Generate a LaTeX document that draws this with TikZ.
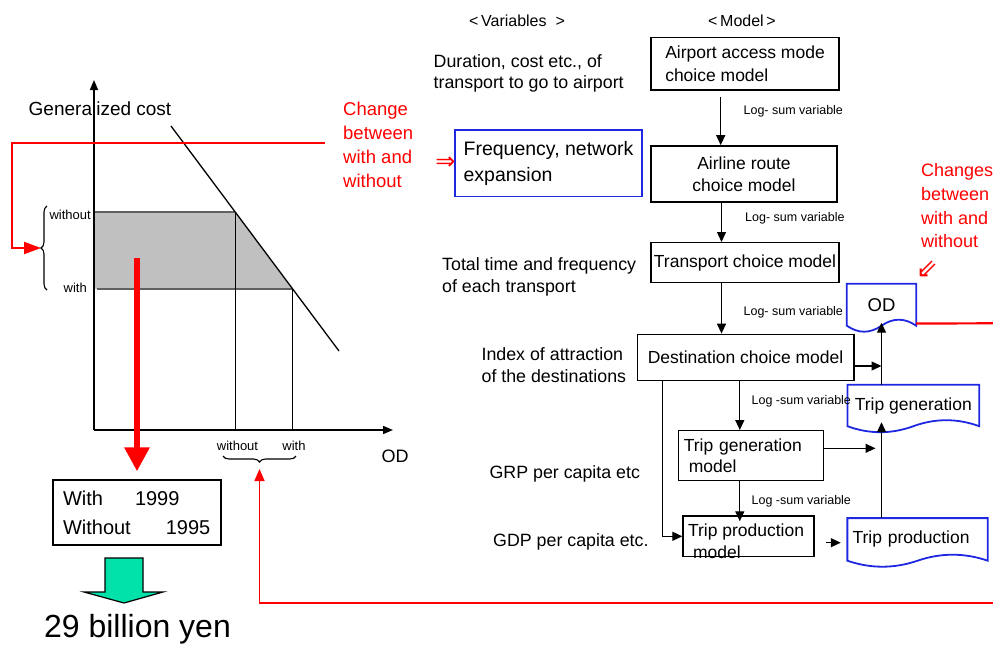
\documentclass[tikz,border=0pt]{standalone}
\usepackage{fontspec}
\setmainfont{Liberation Sans}
\newfontfamily\dvsym{DejaVu Sans}
\usetikzlibrary{arrows.meta,decorations.pathreplacing,calc}
\definecolor{redc}{RGB}{255,0,0}
\definecolor{bluec}{RGB}{30,40,225}
\definecolor{shadec}{RGB}{192,192,192}
\definecolor{edgec}{RGB}{96,96,96}
\definecolor{greenc}{RGB}{0,226,170}
\newcommand{\fsz}[2]{\fontsize{#1}{#2}\selectfont}
% document outline with a wavy bottom, drawn round a named node
\newcommand{\docwave}[1]{%
  \draw[docline] (#1.south west) -- (#1.north west) -- (#1.north east) -- (#1.south east)
    .. controls ($(#1.south east)!0.333!(#1.south)+(0,-8)$) and ($(#1.south east)!0.667!(#1.south)+(0,-8)$) .. (#1.south)
    .. controls ($(#1.south)!0.333!(#1.south west)+(0,8)$) and ($(#1.south)!0.667!(#1.south west)+(0,8)$) .. (#1.south west) -- cycle;}

\tikzset{
  modelbox/.style={draw,line width=1.4pt,inner sep=0pt,font=\fsz{17.5}{22}},
  docbox/.style={inner sep=0pt,font=\fsz{17.5}{22}},
  docline/.style={draw=bluec,line width=1.8pt},
  arr/.style={-{Triangle[length=10pt,width=9pt]},line width=1.3pt},
  lsum/.style={anchor=west,inner sep=0pt,font=\fsz{12.5}{14}},
  vartext/.style={anchor=west,align=left,inner sep=0pt,font=\fsz{17.8}{21.7}},
  redtext/.style={anchor=west,align=left,inner sep=0pt,text=redc},
  axis/.style={line width=1.5pt,-{Triangle[length=10pt,width=8pt]}},
  smalltext/.style={inner sep=0pt,font=\fsz{13}{15}},
}

\begin{document}
\begin{tikzpicture}[x=1pt,y=-1pt]
\useasboundingbox (0,0) rectangle (993,646);

%================= left: cost against OD =================
\coordinate (O) at (94,430);
\coordinate (ytip) at (94,80);
\coordinate (xtip) at (393,430);
\coordinate (d1) at (171,126);
\coordinate (d2) at (339,351);
\coordinate (p1) at ($(d1)!0.3822!(d2)$);
\coordinate (p2) at ($(d1)!0.7244!(d2)$);

\fill[shadec] (O |- p1) -- (p1) -- (p2) -- (O |- p2) -- cycle;
\draw[edgec,line width=1.2pt] (O |- p1) -- (p1);
\draw[edgec,line width=1.2pt] ($(O |- p2)+(3,0)$) -- (p2);
\draw[line width=1.2pt] (p1) -- (p1 |- O);
\draw[line width=1.2pt] (p2) -- (p2 |- O);
\draw[line width=1.3pt] (d1) -- (d2);

\node[font=\fsz{19}{22}] (gcost) at (100,109) {Generalized cost};
\draw[axis] (O) -- (ytip);
\draw[axis] (O) -- (xtip);
\node[font=\fsz{18}{20}] (odax) at (395,456) {OD};

% --- levels on the cost axis
\node[smalltext,anchor=east] (ywo) at (91,215) {without};
\node[smalltext,anchor=east] (yw) at (87,288) {with};
\draw[decorate,decoration={brace,amplitude=6pt},line width=1.1pt] (47,290) -- (47,206);
\coordinate (ybr) at (41,248);

% --- levels on the OD axis
\node[smalltext] (xwo) at (237.5,446) {without};
\node[smalltext] (xw) at (294,446) {with};
\draw[decorate,decoration={brace,amplitude=6pt},line width=1.1pt] (296,456) -- (223,456);
\coordinate (xbr) at (259.5,463);

% --- red change note and its arrow into the brace
\node[redtext,font=\fsz{18.5}{24.1}] (chgL) at (343,145) {Change\\between\\with and\\without};
\draw[redc,line width=2pt,-{Triangle[length=17pt,width=12pt]}]
  ([xshift=-18pt,yshift=2pt]chgL.west) -| ([xshift=-29pt]ybr) -- (ybr);

% --- result
\node[draw,line width=1.3pt,text width=148pt,inner xsep=10pt,inner ysep=0pt,minimum height=65pt,
  align=left,font=\fsz{20}{29}] (wbox) at (137,512.5) {With\hspace{32pt}1999\\Without\hspace{35pt}1995};
\coordinate (cs) at (137,258);
\draw[redc,line width=6pt,-{Triangle[length=24pt,width=24pt]},shorten >=8pt] (cs) -- (wbox.north);
\draw[fill=greenc,line width=1.2pt] (105,558) -- (143,558) -- (143,592) -- (163,592) -- (124,603)
  -- (84,592) -- (105,592) -- cycle;
\node[font=\fsz{32}{36}] (yen) at (137.5,629) {29 billion yen};

%================= right: the chain of models =================
\node[font=\fsz{16}{18}] (hvar) at (517,21) {<\,Variables\ \ >};
\node[font=\fsz{16}{18}] (hmod) at (742,21) {<\,Model\,>};

% --- variables
\node[vartext] (v1) at (433.5,73.5) {Duration, cost etc., of\\transport to go to airport};
\node[vartext] (v2) at (442,277) {Total time and frequency\\of each transport};
\node[vartext] (v3) at (481.4,365) {Index of attraction\\of the destinations};
\node[vartext] (v4) at (489.4,473.5) {GRP per capita etc};
\node[vartext] (v5) at (493,542) {GDP per capita etc.};

\node[draw=bluec,line width=1.6pt,minimum width=187pt,inner sep=0pt,minimum height=66.7pt,
  align=left,font=\fsz{19.5}{26.6}] (freq) at (548.5,163.3) {Frequency, network\\expansion};
\node[text=redc,inner sep=0pt,font=\dvsym\fsz{24}{26}] (imp) at (445.5,163) {⇒};

% --- models
\node[modelbox,minimum width=188pt,minimum height=52.7pt,align=left,font=\fsz{17.5}{22.7}] (mAccess) at (745,63.7)
  {Airport access mode\\choice model};
\node[modelbox,minimum width=186pt,minimum height=56.3pt,align=center,font=\fsz{17.5}{21.6}] (mRoute) at (744,174)
  {Airline route\\choice model};
\node[modelbox,minimum width=188pt,minimum height=39.6pt] (mTrans) at (745,262.5) {Transport choice model};
\node[modelbox,minimum width=216.4pt,minimum height=46.4pt] (mDest) at (745.6,357.5) {Destination choice model};
\node[modelbox,text width=135pt,inner xsep=5pt,minimum height=50pt,align=left,font=\fsz{17.5}{21.7}] (mGen)
  at (751.25,455.7) {Trip generation\\\hspace*{5pt}model};
\node[modelbox,minimum width=131pt,minimum height=40.7pt] (mProd) at (748.5,536.3)
  {\smash{\parbox[t]{121pt}{Trip production\\\hspace*{5pt}model}}};

% --- outputs
\node[docbox,minimum width=69pt,minimum height=41.5pt,font=\fsz{18.5}{20}] (od) at (881.5,304.75) {OD};
\docwave{od}
\node[docbox,minimum width=131.4pt,minimum height=41pt] (tgen) at (913.3,405.5) {Trip generation};
\docwave{tgen}
\node[docbox,text width=130pt,inner xsep=5pt,minimum height=42.2pt,align=left] (tprod) at (917.55,539.4)
  {Trip production};
\docwave{tprod}

% --- log-sum links
\draw[arr] ([xshift=-24.3pt,yshift=-6.7pt]mAccess.south) -- ([xshift=-23.3pt]mRoute.north);
\draw[arr] ([xshift=-22.5pt]mRoute.south) -- ([xshift=-23.5pt]mTrans.north);
\draw[arr] ([xshift=-23.5pt]mTrans.south) -- ([xshift=-24.1pt]mDest.north);
\draw[arr] ([xshift=-5.8pt]mDest.south) -- ([xshift=-11.45pt]mGen.north);
\draw[arr] ([xshift=-11.45pt]mGen.south) -- ([xshift=-8.7pt,yshift=-6pt]mProd.north);
\node[lsum] (ls1) at (743.4,111) {Log- sum variable};
\node[lsum] (ls2) at (745,218.3) {Log- sum variable};
\node[lsum] (ls3) at (743.4,312.7) {Log- sum variable};
\node[lsum] (ls4) at (751.4,401.7) {Log -sum variable};
\node[lsum] (ls5) at (751.4,501) {Log -sum variable};

\draw[arr] ([xshift=25.6pt]mDest.south west) |- (mProd.west);

% --- into the outputs
\coordinate (dE) at ([yshift=-8.5pt]mDest.east);
\draw[arr] (dE) -- (dE -| od.south);
\draw[arr,shorten >=-3pt] (tgen.north -| od.south) -- (od.south);
\coordinate (gE) at ([yshift=7.4pt]mGen.east);
\draw[arr,shorten >=6pt] (gE) -- (gE -| od.south);
\draw[arr,shorten >=-4pt] (tprod.north -| od.south) -- (tgen.south -| od.south);
\coordinate (pE) at ([yshift=-6.4pt]mProd.east);
\draw[arr,shorten <=11.6pt,shorten >=6.6pt] (pE) -- (pE -| tprod.west);

% --- red change note on the right
\node[redtext,font=\fsz{18}{23.7}] (chgR) at (921,206) {Changes\\between\\with and\\without};
\node[text=redc,inner sep=0pt,font=\dvsym\fsz{26}{28}] (chgArr) at (927,269) {⇙};
\coordinate (odR) at (993,323.3);
\draw[redc,line width=2.2pt] ([yshift=2.2pt]od.south east) -- (odR);
\coordinate (rEnd) at (993,603);
\draw[redc,line width=1.6pt,-{Triangle[length=12pt,width=10pt]},shorten >=6pt] (rEnd) -| (xbr);
\end{tikzpicture}
\end{document}
